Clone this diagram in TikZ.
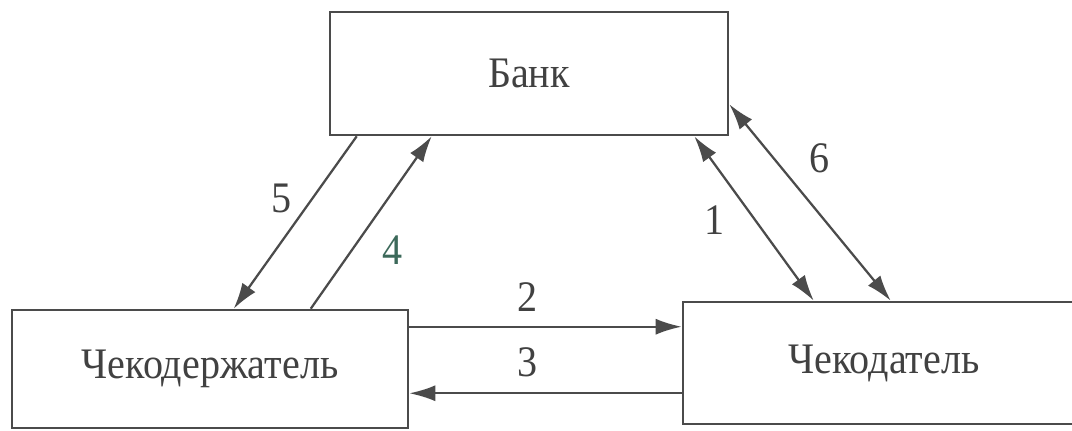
\documentclass[tikz,border=0pt]{standalone}
\usepackage{fontspec}
\setmainfont{Liberation Serif}[FakeStretch=0.92]
\usetikzlibrary{arrows.meta}
\definecolor{linegray}{RGB}{75,75,75}
\definecolor{textgray}{RGB}{65,65,65}
\definecolor{labelgreen}{RGB}{60,105,90}

\begin{document}
\begin{tikzpicture}[
    box/.style={draw=linegray, line width=1.8pt, text=textgray, font=\fontsize{31}{36}\selectfont},
    num/.style={text=textgray, inner sep=0pt, font=\fontsize{31}{36}\selectfont},
    arr/.style={draw=linegray, line width=1.6pt, -{Latex[length=6.5mm,width=4mm]}},
    darr/.style={arr, {Latex[length=6.5mm,width=4mm]}-{Latex[length=6.5mm,width=4mm]}}]
   \useasboundingbox (0,0) rectangle (26.8,10.775);
   % boxes
   \node[box, minimum width=9.95cm, minimum height=3.075cm] (bank) at (13.225,8.9375) {Банк};
   \node[box, minimum width=9.9cm, minimum height=2.95cm] (holder) at (5.25,1.55) {Чекодержатель};
   \node[box, minimum width=10.05cm, minimum height=3.05cm] (drawer) at (22.1,1.7) {Чекодатель};
   % connectors bank -- holder
   \draw[arr] ([xshift=0.7cm]bank.south west) -- ([xshift=5.575cm]holder.north west);
   \draw[arr] ([xshift=7.5cm]holder.north west) -- ([xshift=2.575cm]bank.south west);
   % connectors bank -- drawer
   \draw[darr] ([xshift=-0.875cm]bank.south east) -- ([xshift=3.3cm]drawer.north west);
   \draw[darr] ([yshift=0.8cm]bank.south east) -- ([xshift=5.225cm]drawer.north west);
   % connectors holder -- drawer
   \coordinate (h2) at ([yshift=-0.45cm]holder.north east);
   \coordinate (h3) at ([yshift=0.9cm]holder.south east);
   \draw[arr] (h2) -- (h2 -| drawer.west);
   \draw[arr] (h3 -| drawer.west) -- (h3);
   % numbers
   \node[num] (n5) at (7.05,5.825) {5};
   \node[num, text=labelgreen] (n4) at (9.825,4.525) {4};
   \node[num] (n1) at (17.875,5.275) {1};
   \node[num] (n6) at (20.5,6.825) {6};
   \node[num] (n2) at (13.2,3.35) {2};
   \node[num] (n3) at (13.2,1.725) {3};
\end{tikzpicture}
\end{document}
